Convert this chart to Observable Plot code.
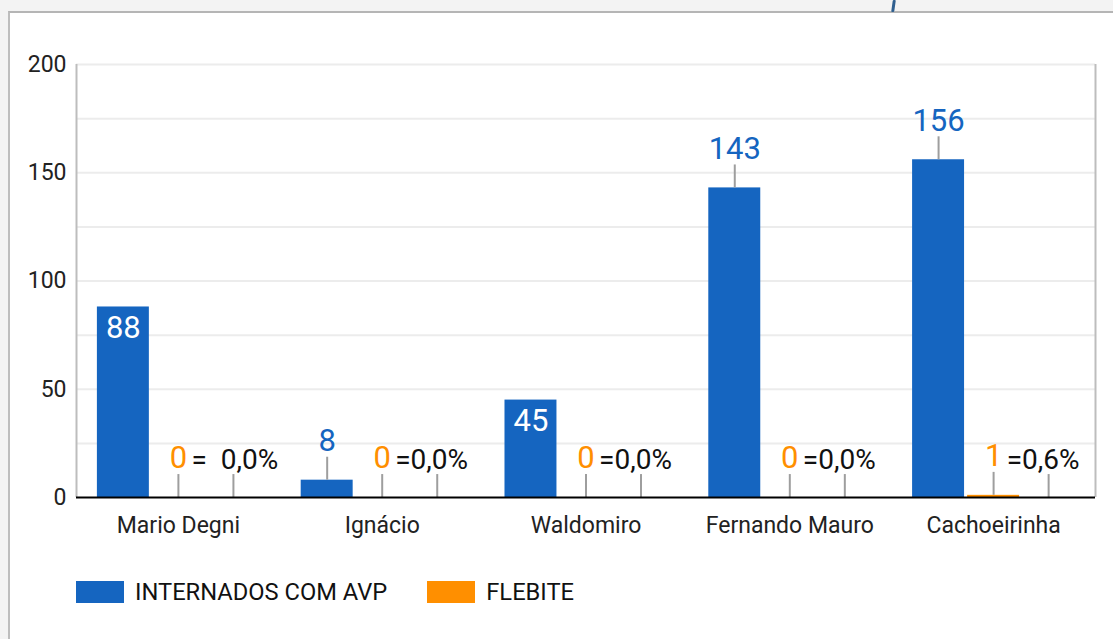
<!DOCTYPE html>
<html>
<head>
<meta charset="utf-8">
<script src="https://cdn.jsdelivr.net/npm/d3@7"></script>
<script src="https://cdn.jsdelivr.net/npm/@observablehq/plot@0.6"></script>
<style>
  html, body { margin: 0; padding: 0; width: 1113px; height: 639px; overflow: hidden; background: #f3f3f3; font-family: Roboto, "Noto Sans", sans-serif; }
  #card { position: absolute; left: 8px; top: 11px; right: 0; bottom: 0; background: #fff; border-left: 2px solid #bdbdbd; border-top: 2px solid #b5b5b5; }
  #deco { position: absolute; left: 892px; top: 0; width: 3px; height: 12px; background: #2f5f8f; transform: skewX(-8deg); border-radius: 1px; }
  #chart { position: absolute; left: 0; top: 0; }
  #legend { position: absolute; left: 76px; top: 578px; display: flex; align-items: center; font-size: 23.7px; color: #111; }
  .item { display: flex; align-items: center; margin-right: 40px; }
  .sw { width: 48px; height: 22px; margin-right: 11px; }
</style>
</head>
<body>
<div id="card"></div>
<div id="deco"></div>
<div id="chart"></div>
<div id="legend"></div>
<script>
// ---- data ----
const categories = ["Mario Degni", "Ignácio", "Waldomiro", "Fernando Mauro", "Cachoeirinha"];
const internados = [88, 8, 45, 143, 156];
const flebite = [0, 0, 0, 0, 1];
const pctLabels = ["=  0,0%", "=0,0%", "=0,0%", "=0,0%", "=0,6%"];
const yTicks = [0, 50, 100, 150, 200];
const seriesNames = ["INTERNADOS COM AVP", "FLEBITE"];
const seriesColors = ["#1565c0", "#ff8f00"];

// ---- layout ----
const W = 1113, H = 560;
const slot = 0.27, half = 0.1275;
const insideLabels = new Set(["Mario Degni", "Waldomiro"]);
const leaderUnits = 10.6;

const rows = [];
categories.forEach((c, i) => {
  rows.push({i, cat: c, s: 0, value: internados[i], pos: i - slot, label: String(internados[i])});
  rows.push({i, cat: c, s: 1, value: flebite[i], pos: i, label: String(flebite[i])});
});
const pctRows = categories.map((c, i) => ({i, cat: c, value: 0, pos: i + slot, label: pctLabels[i]}));

const blueOut = rows.filter(d => d.s === 0 && !insideLabels.has(d.cat));
const blueIn = rows.filter(d => d.s === 0 && insideLabels.has(d.cat));
const orange = rows.filter(d => d.s === 1);
const leaders = [...blueOut, ...orange, ...pctRows];

const chart = Plot.plot({
  width: W, height: H,
  marginLeft: 76, marginRight: 18, marginTop: 64, marginBottom: 63,
  style: {fontFamily: "Roboto, sans-serif", background: "transparent", overflow: "visible"},
  x: {domain: [-0.5, categories.length - 0.5], axis: null},
  y: {domain: [0, 200], axis: null},
  marks: [
    Plot.ruleY(d3.range(25, 201, 25), {stroke: "#ececec", strokeWidth: 2}),
    Plot.ruleX([-0.5, categories.length - 0.5], {y1: 0, y2: 200, stroke: "#bdbdbd", strokeWidth: 2}),
    Plot.rectY(rows, {x1: d => d.pos - half, x2: d => d.pos + half, y1: 0, y2: "value", fill: d => seriesColors[d.s]}),
    Plot.ruleX(leaders, {x: "pos", y1: "value", y2: d => d.value + leaderUnits, stroke: "#9e9e9e", strokeWidth: 2}),
    Plot.ruleY([0], {x1: -0.5, x2: categories.length - 0.5, stroke: "#000", strokeWidth: 2}),
    Plot.text(yTicks, {x: -0.5, y: d => d, text: d => String(d), textAnchor: "end", dx: -10, fontSize: 23, fill: "#222"}),
    Plot.text(categories, {x: (d, i) => i, y: 0, text: d => d, dy: 28, fontSize: 23, fill: "#222"}),
    Plot.text(blueOut, {x: "pos", y: "value", text: "label", dy: -39, fontSize: 31, fill: seriesColors[0]}),
    Plot.text(blueIn, {x: "pos", y: "value", text: "label", dy: 21, fontSize: 31, fill: "#fff"}),
    Plot.text(orange, {x: "pos", y: "value", text: "label", dy: -39, fontSize: 31, fill: seriesColors[1]}),
    Plot.text(pctRows, {x: "pos", y: "value", text: "label", textAnchor: "start", dy: -37, dx: -42, fontSize: 28, fill: "#111"})
  ]
});
document.getElementById("chart").appendChild(chart);

const legend = document.getElementById("legend");
seriesNames.forEach((n, k) => {
  const it = document.createElement("div");
  it.className = "item";
  it.innerHTML = `<div class="sw" style="background:${seriesColors[k]}"></div><span>${n}</span>`;
  legend.appendChild(it);
});
</script>
</body>
</html>
